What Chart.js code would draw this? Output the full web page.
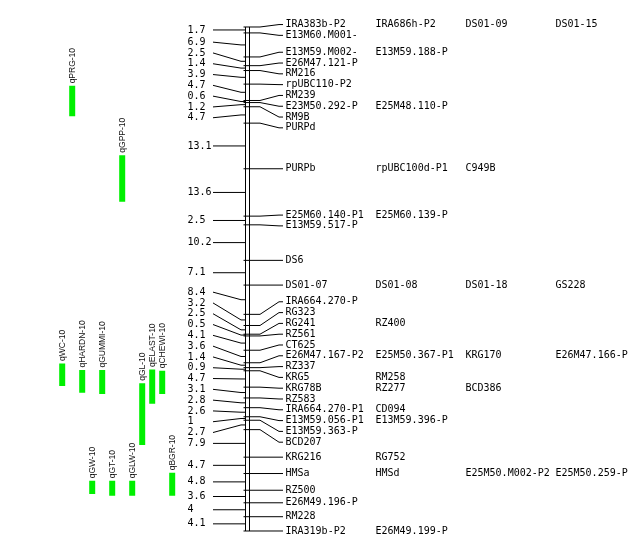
<!DOCTYPE html>
<html><head><meta charset="utf-8">
<script src="https://cdn.jsdelivr.net/npm/chart.js@4/dist/chart.umd.min.js"></script>
<style>html,body{margin:0;padding:0;background:#fff;}#wrap{width:636px;height:545px;}</style>
</head><body><div id="wrap"><canvas id="c" width="636" height="545"></canvas></div>
<script>
// ---- DATA ----
// distances (cM) between consecutive markers along the chromosome
const intervals = [1.7, 6.9, 2.5, 1.4, 3.9, 4.7, 0.6, 1.2, 4.7, 13.1, 13.6, 2.5, 10.2, 7.1, 8.4,
  3.2, 2.5, 0.5, 4.1, 3.6, 1.4, 0.9, 4.7, 3.1, 2.8, 2.6, 1, 2.7, 7.9, 4.7, 4.8, 3.6, 4, 4.1];
// primary marker at each locus
const markerNames = ['IRA383b-P2','E13M60.M001-','E13M59.M002-','E26M47.121-P','RM216','rpUBC110-P2',
  'RM239','E23M50.292-P','RM9B','PURPd','PURPb','E25M60.140-P1','E13M59.517-P','DS6','DS01-07',
  'IRA664.270-P','RG323','RG241','RZ561','CT625','E26M47.167-P2','RZ337','KRG5','KRG78B','RZ583',
  'IRA664.270-P1','E13M59.056-P1','E13M59.363-P','BCD207','KRG216','HMSa','RZ500','E26M49.196-P',
  'RM228','IRA319b-P2'];
// co-located markers at the same locus
const coMarkers = [['IRA686h-P2','DS01-09','DS01-15'],[],['E13M59.188-P'],[],[],[],[],['E25M48.110-P'],[],[],
  ['rpUBC100d-P1','C949B'],['E25M60.139-P'],[],[],['DS01-08','DS01-18','GS228'],
  [],[],['RZ400'],[],[],['E25M50.367-P1','KRG170','E26M47.166-P'],[],['RM258'],['RZ277','BCD386'],[],
  ['CD094'],['E13M59.396-P'],[],[],['RG752'],['HMSd','E25M50.M002-P2','E25M50.259-P'],[],[],[],['E26M49.199-P']];
// QTLs (in lane order) with start / end in cM
const qtlNames = ['qWC-10','qPRG-10','qHARDN-10','qGW-10','qGUMMI-10','qGT-10','qGPP-10','qGLW-10',
  'qGL-10','qELAST-10','qCHEWI-10','qBGR-10'];
const qtlStart = [96.6, 16.9, 98.5, 130.3, 98.5, 130.3, 36.8, 130.3, 102.3, 98.3, 98.7, 128.0];
const qtlEnd   = [103.1, 25.6, 105.0, 134.1, 105.4, 134.6, 50.2, 134.6, 120.0, 108.2, 105.4, 134.6];

// ---- LAYOUT ----
const Y_MIN = -7.75, Y_MAX = 148.72, H = 545;
const PX = H / (Y_MAX - Y_MIN);
const GAP = 10.8 / PX;
const pos = [0];
intervals.forEach(d => pos.push(Math.round((pos[pos.length - 1] + d) * 100) / 100));
const mids = intervals.map((d, i) => (pos[i] + pos[i + 1]) / 2);

// label de-overlap: clusters centred on the middle of their target range
function spread(targets, gap) {
  let cl = targets.map(t => ({ n: 1, lo: t, hi: t }));
  const top = c => (c.lo + c.hi) / 2 - (c.n - 1) * gap / 2;
  let merged = true;
  while (merged) {
    merged = false;
    for (let k = 0; k < cl.length - 1; k++) {
      const a = cl[k], b = cl[k + 1];
      if (top(a) + a.n * gap > top(b) + 1e-9) {
        cl.splice(k, 2, { n: a.n + b.n, lo: a.lo, hi: b.hi });
        merged = true; break;
      }
    }
  }
  const out = [];
  cl.forEach(c => { const t = top(c); for (let j = 0; j < c.n; j++) out.push(t + j * gap); });
  return out;
}
const rightY = spread(pos, GAP);
const leftY = spread(mids, GAP);

const CH_L = 245.5, CH_R = 249.5;
const datasets = [];
const mk = (pts, w, color) => ({ data: pts, borderColor: color || '#000', borderWidth: w || 1,
  pointRadius: 0, fill: false, tension: 0, borderCapStyle: 'butt' });

datasets.push(mk([{ x: CH_L, y: pos[0] }, { x: CH_L, y: pos[pos.length - 1] }]));
datasets.push(mk([{ x: CH_R, y: pos[0] }, { x: CH_R, y: pos[pos.length - 1] }]));
pos.forEach((p, i) => {
  datasets.push(mk([{ x: 243.5, y: p }, { x: 260, y: p }, { x: 279, y: rightY[i] }, { x: 283, y: rightY[i] }]));
});
mids.forEach((m, i) => {
  datasets.push(mk([{ x: 213, y: leftY[i] }, { x: 241, y: m }, { x: CH_L, y: m }]));
});
qtlNames.forEach((n, i) => {
  const x = 62.2 + 10 * i;
  datasets.push(mk([{ x: x, y: qtlStart[i] }, { x: x, y: qtlEnd[i] }], 6, '#00f000'));
});

const textPlugin = {
  id: 'texts',
  afterDatasetsDraw(chart) {
    const ctx = chart.ctx, xs = chart.scales.x, ys = chart.scales.y;
    ctx.save();
    ctx.fillStyle = '#000';
    ctx.font = '10px "DejaVu Sans Mono"';
    ctx.textBaseline = 'middle';
    ctx.textAlign = 'left';
    intervals.forEach((d, i) => {
      ctx.fillText(String(d), xs.getPixelForValue(187.5), ys.getPixelForValue(leftY[i]));
    });
    markerNames.forEach((n, i) => {
      const y = ys.getPixelForValue(rightY[i]);
      ctx.fillText(n, xs.getPixelForValue(285.5), y);
      coMarkers[i].forEach((m, j) => ctx.fillText(m, xs.getPixelForValue(285.5 + 90 * (j + 1)), y));
    });
    ctx.font = '8.5px "Liberation Sans"';
    ctx.fillStyle = '#111';
    qtlNames.forEach((n, i) => {
      const x = xs.getPixelForValue(62.2 + 10 * i);
      const y = ys.getPixelForValue(qtlStart[i]) - 2.5;
      ctx.save();
      ctx.translate(x, y);
      ctx.rotate(-Math.PI / 2);
      ctx.textAlign = 'left';
      ctx.textBaseline = 'middle';
      ctx.fillText(n, 0, 0);
      ctx.restore();
    });
    ctx.restore();
  }
};

new Chart(document.getElementById('c'), {
  type: 'line',
  data: { datasets },
  options: {
    responsive: false, animation: false, devicePixelRatio: 1, events: [],
    layout: { padding: 0 },
    scales: {
      x: { type: 'linear', min: 0, max: 636, display: false },
      y: { type: 'linear', min: Y_MIN, max: Y_MAX, reverse: true, display: false }
    },
    plugins: { legend: { display: false }, tooltip: { enabled: false }, title: { display: false } }
  },
  plugins: [textPlugin]
});
</script></body></html>
